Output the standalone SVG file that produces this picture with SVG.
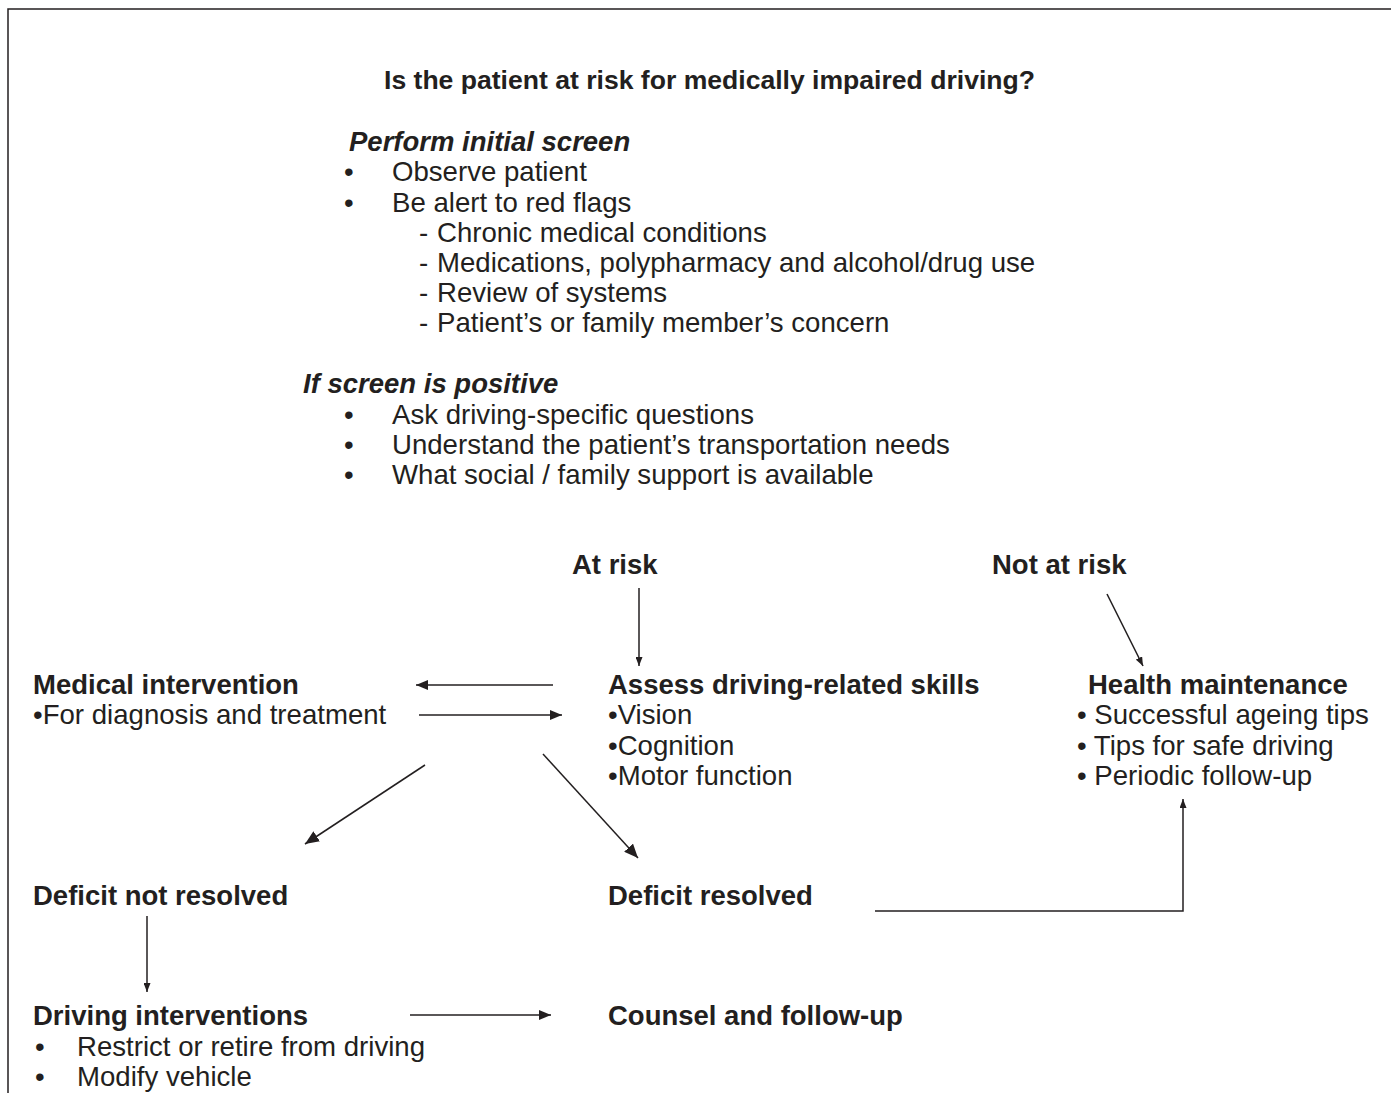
<svg xmlns="http://www.w3.org/2000/svg" width="1391" height="1093" viewBox="0 0 1391 1093">
<style>
text{font-family:"Liberation Sans",Arial,sans-serif;fill:#231f20;font-size:27.6px}
.b{font-weight:bold;font-size:27.5px}
.bi{font-weight:bold;font-style:italic;font-size:27.5px}
.c{stroke:#231f20;stroke-width:1.5;fill:none}
</style>
<defs>
<marker id="ah" markerUnits="userSpaceOnUse" markerWidth="12" markerHeight="10" refX="12" refY="5" orient="auto"><path d="M0,0 L12,5 L0,10 z" fill="#231f20"/></marker>
<marker id="ahs" markerUnits="userSpaceOnUse" markerWidth="9" markerHeight="7" refX="9" refY="3.5" orient="auto"><path d="M0,0 L9,3.5 L0,7 z" fill="#231f20"/></marker>
<marker id="ahL" markerUnits="userSpaceOnUse" markerWidth="14" markerHeight="12" refX="14" refY="6" orient="auto"><path d="M0,0 L14,6 L0,12 z" fill="#231f20"/></marker>
</defs>
<rect width="1391" height="1093" fill="#fff"/>
<g id="frame"><path class="c" d="M8,1093 V9 H1391" stroke-width="1.8"/></g>

<g id="question">
<text class="b" x="384" y="89" style="font-size:26.6px" textLength="651" lengthAdjust="spacingAndGlyphs">Is the patient at risk for medically impaired driving?</text>
</g>

<g id="initial-screen">
<text class="bi" x="349" y="151">Perform initial screen</text>
<text x="344" y="181">•</text><text x="392" y="181">Observe patient</text>
<text x="344" y="212">•</text><text x="392" y="212">Be alert to red flags</text>
<text x="419" y="242">-</text><text x="437" y="242">Chronic medical conditions</text>
<text x="419" y="272">-</text><text x="437" y="272">Medications, polypharmacy and alcohol/drug use</text>
<text x="419" y="302">-</text><text x="437" y="302">Review of systems</text>
<text x="419" y="332">-</text><text x="437" y="332">Patient’s or family member’s concern</text>
</g>

<g id="screen-positive">
<text class="bi" x="303" y="393">If screen is positive</text>
<text x="344" y="424">•</text><text x="392" y="424">Ask driving-specific questions</text>
<text x="344" y="454">•</text><text x="392" y="454">Understand the patient’s transportation needs</text>
<text x="344" y="484">•</text><text x="392" y="484">What social / family support is available</text>
</g>

<g id="at-risk"><text class="b" x="572" y="574">At risk</text></g>
<g id="not-at-risk"><text class="b" x="992" y="574">Not at risk</text></g>

<g id="medical-intervention">
<text class="b" x="33" y="694">Medical intervention</text>
<text x="33" y="724">•For diagnosis and treatment</text>
</g>

<g id="assess-skills">
<text class="b" x="608" y="694">Assess driving-related skills</text>
<text x="608" y="724">•Vision</text>
<text x="608" y="755">•Cognition</text>
<text x="608" y="785">•Motor function</text>
</g>

<g id="health-maintenance">
<text class="b" x="1088" y="694">Health maintenance</text>
<text x="1077" y="724">• Successful ageing tips</text>
<text x="1077" y="755">• Tips for safe driving</text>
<text x="1077" y="785">• Periodic follow-up</text>
</g>

<g id="deficit-not-resolved"><text class="b" x="33" y="905">Deficit not resolved</text></g>
<g id="deficit-resolved"><text class="b" x="608" y="905">Deficit resolved</text></g>

<g id="driving-interventions">
<text class="b" x="33" y="1025">Driving interventions</text>
<text x="35" y="1056">•</text><text x="77" y="1056">Restrict or retire from driving</text>
<text x="35" y="1086">•</text><text x="77" y="1086">Modify vehicle</text>
</g>

<g id="counsel"><text class="b" x="608" y="1025">Counsel and follow-up</text></g>

<g id="connectors">
<line class="c" x1="639" y1="588" x2="639" y2="666" marker-end="url(#ahs)"/>
<line class="c" x1="1107" y1="594" x2="1143" y2="666" marker-end="url(#ahs)"/>
<line class="c" x1="553" y1="685" x2="416" y2="685" marker-end="url(#ah)"/>
<line class="c" x1="419" y1="715" x2="562" y2="715" marker-end="url(#ah)"/>
<line class="c" x1="425" y1="765" x2="305" y2="844" marker-end="url(#ahL)"/>
<line class="c" x1="543" y1="754" x2="638" y2="858" marker-end="url(#ahL)"/>
<polyline class="c" points="875,911 1183,911 1183,799" marker-end="url(#ahs)"/>
<line class="c" x1="147" y1="916" x2="147" y2="992" marker-end="url(#ahs)"/>
<line class="c" x1="410" y1="1015" x2="551" y2="1015" marker-end="url(#ah)"/>
</g>
</svg>
